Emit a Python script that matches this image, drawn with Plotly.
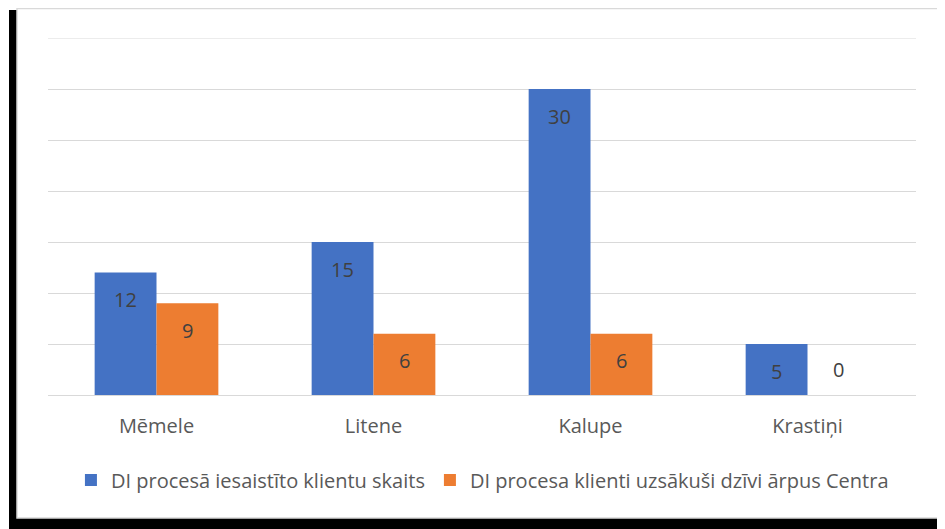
import plotly.graph_objects as go

categories = ["Mēmele", "Litene", "Kalupe", "Krastiņi"]
series_names = ["DI procesā iesaistīto klientu skaits", "DI procesa klienti uzsākuši dzīvi ārpus Centra"]
engaged = [12, 15, 30, 5]
left_centre = [9, 6, 6, 0]
colors = ["#4472C4", "#ED7D31"]
y_max = 35

# page body has an 8px margin; figure is sized so it ends at the window edge
OFF = 8
W, H = 945 - OFF, 529 - OFF
L, R, T, B = 48 - OFF, 945 - 916, 38 - OFF, 529 - 395
pw, ph = W - L - R, H - T - B
FONT = "Open Sans"

def px_x(x):
    return (x - OFF - L) / pw

def px_y(y):
    return (H - B - (y - OFF)) / ph

fig = go.Figure()
for name, vals, col in zip(series_names, [engaged, left_centre], colors):
    fig.add_trace(go.Bar(x=categories, y=vals, name=name, marker=dict(color=col, line=dict(width=0))))

annotations = []
for k, vals in enumerate([engaged, left_centre]):
    shift = -31 if k == 0 else 31
    for c, v in zip(categories, vals):
        annotations.append(dict(x=c, y=v, xref="x", yref="y", text=str(v), showarrow=False,
                                xshift=shift, yshift=(-27 if v > 0 else 26),
                                font=dict(size=20, color="#404040", family=FONT)))

shapes = [
    dict(type="rect", xref="paper", yref="paper", x0=px_x(9), x1=px_x(946), y0=px_y(530), y1=px_y(10),
         fillcolor="black", line=dict(width=0), layer="below"),
    dict(type="rect", xref="paper", yref="paper", x0=px_x(17), x1=px_x(943), y0=px_y(518), y1=px_y(8.5),
         fillcolor="white", line=dict(width=1.5, color="#d9d9d9"), layer="below"),
    dict(type="line", xref="paper", yref="y", x0=0, x1=1, y0=y_max, y1=y_max,
         line=dict(width=1, color="#d9d9d9"), layer="above"),
]

fig.update_layout(
    width=W, height=H,
    margin=dict(l=L, r=R, t=T, b=B),
    barmode="group", bargap=0.43, bargroupgap=0,
    paper_bgcolor="white", plot_bgcolor="rgba(0,0,0,0)",
    font=dict(family=FONT, size=20, color="#595959"),
    xaxis=dict(showgrid=False, showline=False, ticks="", ticklabelstandoff=17,
               tickfont=dict(size=20, color="#595959", family=FONT)),
    yaxis=dict(range=[0, y_max], dtick=5, showticklabels=False, gridcolor="#d9d9d9", gridwidth=1,
               zeroline=True, zerolinecolor="#d9d9d9", zerolinewidth=1, showline=False),
    legend=dict(orientation="h", x=0.5005, xanchor="center", y=px_y(480), yanchor="middle",
                font=dict(size=20, color="#595959", family=FONT), bgcolor="rgba(0,0,0,0)",
                itemwidth=30, traceorder="normal"),
    annotations=annotations,
    shapes=shapes,
    showlegend=True,
)

fig.write_html("out.html")
